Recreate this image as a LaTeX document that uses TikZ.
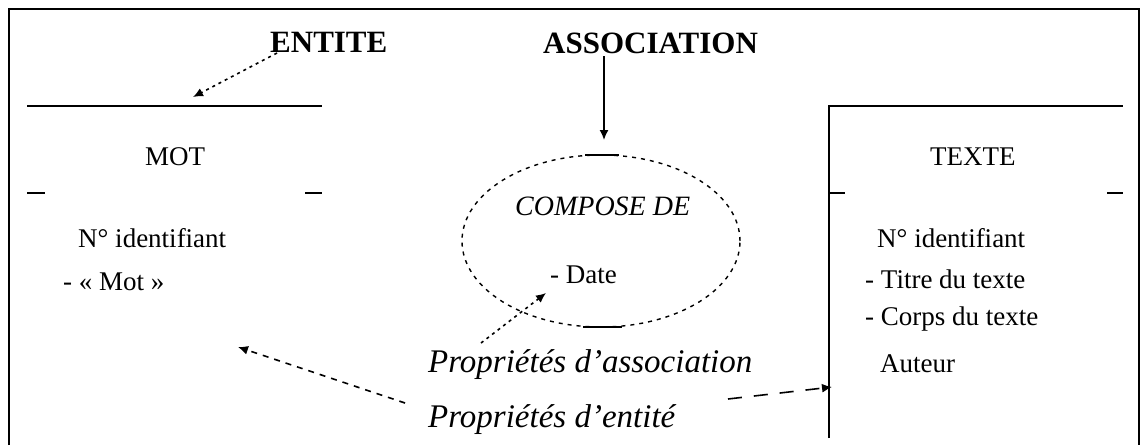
\documentclass[tikz,border=0pt]{standalone}
\usepackage{fontspec}
\setmainfont{Liberation Serif}
\usetikzlibrary{arrows.meta,shapes.geometric}
\begin{document}
\begin{tikzpicture}[x=1pt,y=-1pt,
  txt/.style={anchor=base west,inner sep=0pt,font=\fontsize{27}{30}\selectfont},
  bigbold/.style={anchor=base west,inner sep=0pt,font=\fontsize{31}{34}\selectfont\bfseries},
  itxt/.style={anchor=base west,inner sep=0pt,font=\fontsize{33}{36}\selectfont\itshape},
  frame/.style={line width=2pt},
  tip/.style={-{Latex[length=10pt,width=9pt]}},
  dotarrow/.style={tip,line width=1.6pt,dash pattern=on 3pt off 4pt},
  dasharrow/.style={tip,line width=1.6pt,dash pattern=on 8pt off 7pt}]
\useasboundingbox (0,0) rectangle (1141,445);
\fill[white] (0,0) rectangle (1141,445);
% outer frame
\draw[frame] (9,445) -- (9,9) -- (1139,9) -- (1139,445);
% MOT entity
\draw[frame] (27,106) -- (322,106);
\draw[frame] (27,193) -- (45,193);
\draw[frame] (305,193) -- (322,193);
\node[txt] (mot) at (145,165) {MOT};
\node[txt] (motid) at (78,247) {N° identifiant};
\node[txt] (motmot) at (63,290) {- « Mot »};
% TEXTE entity
\draw[frame] (829,438) -- (829,106) -- (1123,106);
\draw[frame] (829,193) -- (845,193);
\draw[frame] (1107,193) -- (1123,193);
\node[txt] (texte) at (930,165) {TEXTE};
\node[txt] (texid) at (877,247) {N° identifiant};
\node[txt] (titre) at (865,288) {- Titre du texte};
\node[txt] (corps) at (865,325) {- Corps du texte};
\node[txt] (auteur) at (880,372) {Auteur};
% association ellipse
\node[ellipse,draw,line width=1.4pt,dash pattern=on 4pt off 5pt,
      minimum width=278pt,minimum height=172pt,inner sep=0pt] (ell) at (601,241) {};
\draw[frame] (585,155) -- (619,155);
\draw[frame] (583,327) -- (622,327);
\node[anchor=base west,inner sep=0pt,font=\fontsize{28}{30}\selectfont\itshape] (compose) at (515,215) {COMPOSE DE};
\node[txt] (date) at (550,283) {- Date};
% headings
\node[bigbold] (entite) at (270,52) {ENTITE};
\node[bigbold] (assoc) at (543,53) {ASSOCIATION};
% property labels
\node[itxt] (passoc) at (428,372) {Propriétés d'association};
\node[itxt] (pent) at (428,427) {Propriétés d'entité};
% connector coordinates
\coordinate (e1) at (277,53);
\coordinate (e2) at (193,97);
\coordinate (a1) at (604,56);
\coordinate (a2) at (604,140);
\coordinate (p1) at (481,343);
\coordinate (p2) at (546,293);
\coordinate (q1) at (405,403);
\coordinate (q2) at (238,347);
\coordinate (r1) at (728,399);
\coordinate (r2) at (832,387);
% connectors
\draw[dotarrow] (e1) -- (e2);
\draw[tip,line width=1.6pt] (a1) -- (a2);
\draw[dotarrow] (p1) -- (p2);
\draw[dasharrow,dash pattern=on 6pt off 6pt] (q1) -- (q2);
\draw[dasharrow,dash pattern=on 14pt off 12pt] (r1) -- (r2);
\end{tikzpicture}
\end{document}
